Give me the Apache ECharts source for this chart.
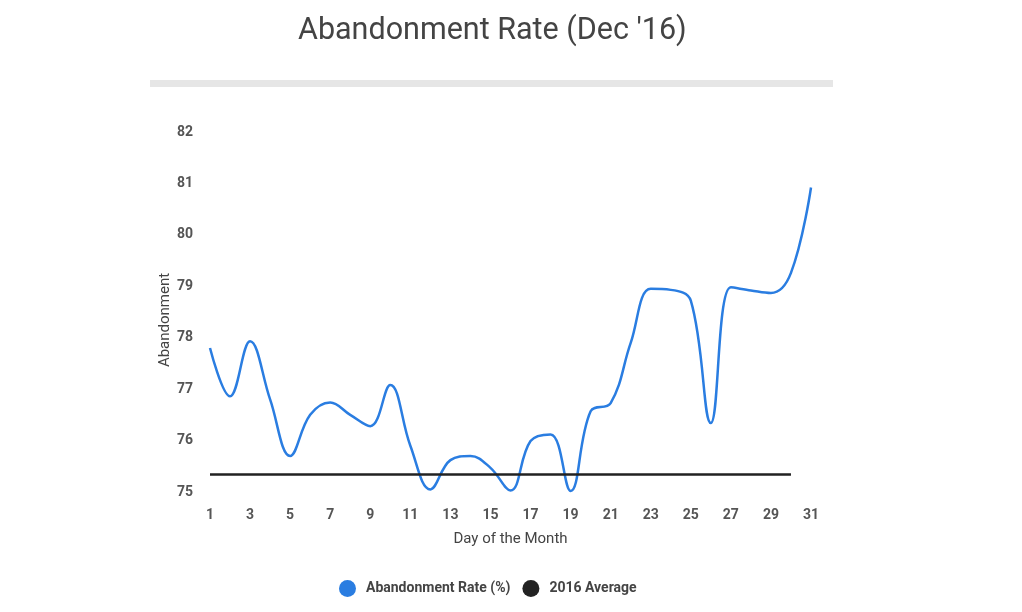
<!DOCTYPE html>
<html>
<head>
<meta charset="utf-8">
<script src="https://cdn.jsdelivr.net/npm/echarts@6/dist/echarts.min.js"></script>
<style>
html,body{margin:0;padding:0;background:#fff;}
#chart{width:1022px;height:612px;}
</style>
</head>
<body>
<div id="chart"></div>
<script>
var days = ['1','2','3','4','5','6','7','8','9','10','11','12','13','14','15','16','17','18','19','20','21','22','23','24','25','26','27','28','29','30','31'];
var abandonmentRate = [77.8, 76.86, 77.93, 76.8, 75.7, 76.5, 76.74, 76.5, 76.28, 77.08, 75.9, 75.05, 75.62, 75.7, 75.47, 75.03, 75.99, 76.12, 75.02, 76.57, 76.73, 77.9, 78.95, 78.93, 78.72, 76.34, 78.98, 78.92, 78.87, 79.26, 80.92];
var average2016 = [75.34, 75.34, 75.34, 75.34, 75.34, 75.34, 75.34, 75.34, 75.34, 75.34, 75.34, 75.34, 75.34, 75.34, 75.34, 75.34, 75.34, 75.34, 75.34, 75.34, 75.34, 75.34, 75.34, 75.34, 75.34, 75.34, 75.34, 75.34, 75.34, 75.34, null];
var seriesNames = ['Abandonment Rate (%)', '2016 Average'];

var chart = echarts.init(document.getElementById('chart'), null, {renderer: 'canvas'});
chart.setOption({
  backgroundColor: '#ffffff',
  animation: false,
  title: {
    text: "Abandonment Rate (Dec '16)",
    left: 293,
    top: 11,
    textStyle: {fontFamily: 'Roboto', fontSize: 30.5, fontWeight: 'normal', color: '#444444'}
  },
  graphic: [{
    type: 'rect',
    shape: {x: 150, y: 80, width: 683, height: 7},
    style: {fill: '#e6e6e6'}
  }],
  legend: {
    bottom: 10,
    left: 334,
    icon: 'circle',
    itemWidth: 17,
    itemHeight: 17,
    itemGap: 12,
    data: seriesNames,
    textStyle: {fontFamily: 'Roboto', fontSize: 14, color: '#444', fontWeight: 'bold', padding: [0, 0, 0, 5]}
  },
  grid: {left: 210, right: 211, top: 132, bottom: 120, containLabel: false},
  xAxis: {
    type: 'category',
    data: days,
    boundaryGap: false,
    name: 'Day of the Month',
    nameLocation: 'middle',
    nameGap: 40,
    nameTextStyle: {fontFamily: 'Roboto', fontSize: 15, color: '#444'},
    axisLine: {show: false},
    axisTick: {show: false},
    axisLabel: {interval: 1, margin: 16, fontFamily: 'Roboto', fontSize: 14, fontWeight: 'bold', color: '#555'},
    splitLine: {show: false}
  },
  yAxis: {
    type: 'value',
    min: 75,
    max: 82,
    interval: 1,
    name: 'Abandonment',
    nameLocation: 'middle',
    nameGap: 37,
    nameMoveOverlap: false,
    nameRotate: 90,
    nameTextStyle: {fontFamily: 'Roboto', fontSize: 15, color: '#444', padding: [0, 16, 0, 0]},
    axisLine: {show: false},
    axisTick: {show: false},
    axisLabel: {margin: 17, fontFamily: 'Roboto', fontSize: 14, fontWeight: 'bold', color: '#555'},
    splitLine: {show: false}
  },
  series: [{
    name: seriesNames[0],
    type: 'line',
    data: abandonmentRate,
    smooth: 0.4,
    symbol: 'none',
    color: '#2a7de1',
    lineStyle: {width: 2.5, color: '#2a7de1'}
  }, {
    name: seriesNames[1],
    type: 'line',
    data: average2016,
    symbol: 'none',
    color: '#222222',
    lineStyle: {width: 2.5, color: '#222222'}
  }]
});
</script>
</body>
</html>
